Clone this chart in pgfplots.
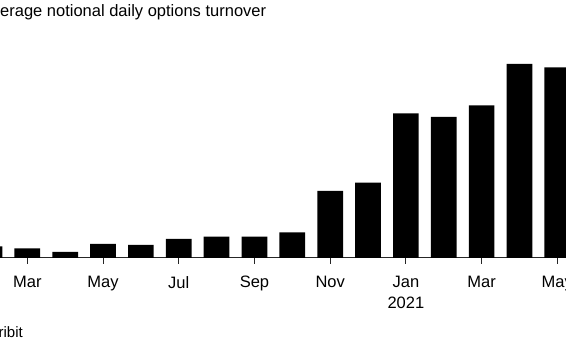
\documentclass[border=0pt]{standalone}
\usepackage{fontspec}
\setmainfont{Liberation Sans}
\usepackage{pgfplots}
\pgfplotsset{compat=1.18}
\begin{document}
\begin{tikzpicture}[x=1pt,y=1pt]
\path[use as bounding box, clip] (0,0) rectangle (566,350);
\begin{axis}[
  at={(0,92)}, anchor=south west,
  scale only axis, width=566pt, height=220pt,
  xmin=-0.721, xmax=14.229, ymin=0, ymax=2.2,
  enlargelimits=false,
  axis x line*=bottom, axis y line=none,
  x axis line style={black!85, line width=1pt, -},
  xtick={0,2,4,6,8,10,12,14},
  xticklabels={Mar,May,Jul,Sep,Nov,{Jan\\2021},Mar,May},
  tick align=outside, major tick length=6pt,
  xtick style={black!85, line width=1pt},
  xticklabel style={anchor=north, inner sep=0pt, align=center, yshift=-12pt,
    font=\fontsize{16.5}{21}\selectfont},
  ytick=\empty,
]
\addplot[ybar, fill=black, draw=none, bar width=25.7pt] coordinates {
  (-1,0.115) (0,0.097) (1,0.06) (2,0.14) (3,0.13) (4,0.19) (5,0.213) (6,0.213)
  (7,0.257) (8,0.67) (9,0.753) (10,1.447) (11,1.41) (12,1.527) (13,1.94) (14,1.907)
};
\end{axis}
\node[anchor=base west, inner sep=0pt, font=\fontsize{16.5}{20}\selectfont] at (-19,333.5) {Average notional daily options turnover};
\node[anchor=base west, inner sep=0pt, font=\fontsize{15}{18}\selectfont] at (-78,12.7) {Source: Deribit};
\end{tikzpicture}
\end{document}
